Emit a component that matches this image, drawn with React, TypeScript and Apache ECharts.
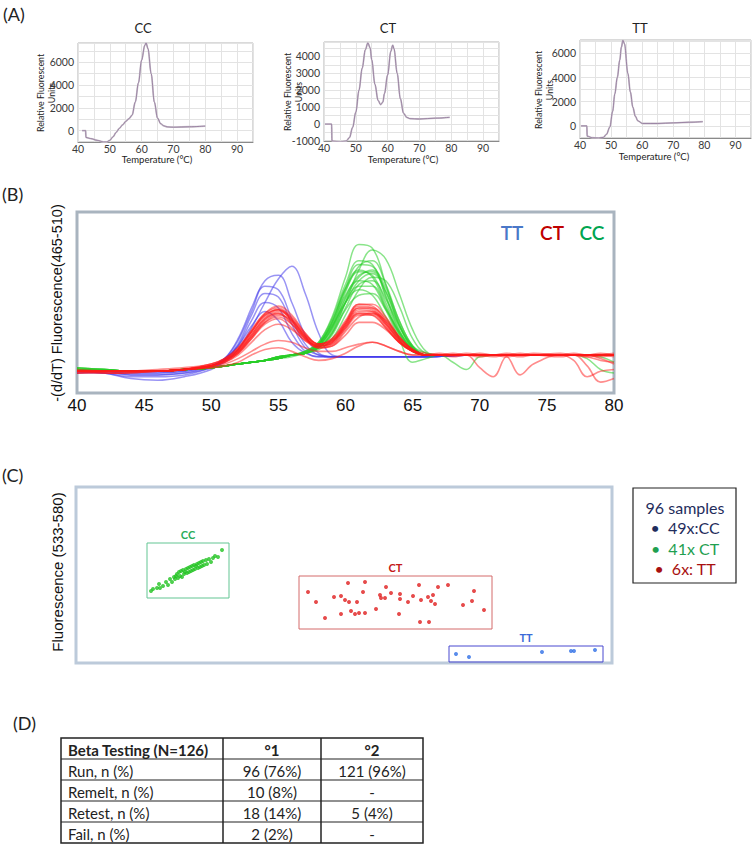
import { useEffect, useRef } from "react";
import * as echarts from "echarts";

// ---------- Panel A: single melt curves ----------
const ccTemp = [41.3,42.4,42.5,44,46,48,49,50,51,52,53,54,55,56,57,58,59,60,61,61.4,62,63,64,65,66,67,68,70,75,80];
const ccRfu = [0,0,-600,-700,-850,-1000,-1000,-850,-550,-150,200,500,800,1050,1350,2500,4200,6200,7500,7700,7200,5000,2500,1100,600,420,330,300,340,400];
const ctTemp = [40.3,42.4,42.5,45,47,48,49,50,51,52,53,53.8,54.5,55,56,57,57.8,58.5,59,60,61,61.6,62,63,64,65,66,67,70,75,79.5];
const ctRfu = [0,0,-1000,-1050,-1000,-800,-200,700,2000,3300,4400,4800,4500,3800,2350,1400,1150,1300,1800,2900,4300,4660,4450,3000,1500,640,400,320,300,350,400];
const ttTemp = [40.3,42.2,42.3,44,46,47.5,48.5,49.6,50.5,51.2,52,52.8,53.3,53.8,54.3,55.4,56.2,57,57.8,58.6,60.1,65,70,75,79.5];
const ttRfu = [0,0,-850,-980,-1000,-950,-700,-100,1200,2650,4000,5450,6500,7070,6800,4330,2800,1540,800,420,200,200,250,300,350];

// ---------- Panel B: -(d/dT) melt curves ----------
const bTempTT = [40,42,44,46,48,50,51,52,53,54,55,56,57,58,59,60,62,65,70,75,80];
const bTT = [
  [12,11,9,9,10,14,17,24,36,50,63,70,55,33,21,20,20,20,21,21,21],
  [12,12,10,10,11,15,19,30,47,62,65,50,32,22,20,20,20,20,21,21,21],
  [11,12,11,11,12,15,19,29,45,59,57,41,27,21,20,20,20,20,21,21,21],
  [12,11,8,7,9,13,18,27,43,55,53,38,25,21,20,20,20,20,21,21,21],
  [11,11,10,10,11,14,18,26,40,50,47,33,23,20,20,20,20,20,21,21,21],
  [12,12,11,11,12,15,19,26,37,45,40,28,22,20,20,20,20,20,21,21,21],
];
const bTempCT = [40,43,46,48,50,51,52,53,54,55,56,57,58,59,60,61,62,63,64,65,66,67,68,69,70,71,72,73,74,76,77,78,79,80];
const bCT = [
  [12,11,12,13,15,18,23,32,41,44,38,30,26,28,37,46,45,37,28,23,21,21,22,21,21,21,20,21,21,22,21,21,20,21],
  [12,12,12,13,16,19,25,35,44,47,41,32,27,30,40,49,48,40,30,24,21,22,21,21,20,21,21,22,21,21,21,20,21,22],
  [11,11,12,13,15,17,22,30,38,41,36,29,26,27,35,43,43,36,28,23,21,21,21,22,21,20,21,21,22,21,21,21,21,20],
  [12,12,13,14,16,19,24,33,42,46,42,33,27,29,38,47,47,41,31,24,21,21,21,21,22,21,21,20,21,21,22,21,21,21],
  [12,11,12,13,15,18,22,30,39,43,40,31,25,26,34,42,44,40,31,24,22,21,20,21,21,21,22,21,21,20,21,21,22,21],
  [12,12,12,13,14,16,19,23,27,29,28,25,23,23,25,27,28,26,23,21,21,21,21,21,21,21,21,21,21,21,21,21,21,21],
  [12,12,12,13,14,15,17,21,24,25,23,20,18,19,22,26,28,26,23,21,21,21,21,21,14,9,20,10,16,21,21,21,21,21],
  [13,12,12,13,15,18,24,34,43,46,40,31,26,28,38,47,46,38,29,23,21,21,21,21,21,21,21,21,21,21,18,9,12,13],
  [12,12,12,13,15,17,22,31,40,44,39,30,25,27,36,44,44,38,29,23,21,21,21,21,21,21,21,21,21,21,21,15,6,8],
  [12,12,12,13,16,19,25,34,43,46,40,31,26,29,39,49,49,42,31,24,21,21,21,21,21,21,21,21,21,21,21,21,21,21],
  [11,12,12,13,15,18,24,34,44,48,43,33,27,30,39,48,47,39,29,23,21,21,21,21,21,21,21,21,21,21,21,21,21,21],
  [12,12,12,13,15,18,23,31,39,42,38,30,26,28,36,44,43,36,28,23,21,21,21,21,21,21,21,21,21,21,21,20,18,17],
  [12,12,12,13,15,17,21,28,35,38,35,29,25,26,32,39,39,35,28,23,21,21,21,21,21,21,21,21,21,21,21,21,21,21],
  [12,12,12,13,15,18,23,32,41,45,41,32,27,29,37,45,45,39,30,24,21,21,21,21,21,21,21,21,21,21,21,21,19,16],
];
const bTempCC = [40,42,44,46,48,50,52,54,55,56,57,58,59,60,61,62,63,64,65,66,67,68,69,70,72,75,77,78,79,80];
const bCC = [
  [14,13,12,12,13,14,16,18,20,21,23,28,42,64,82,80,60,38,25,21,21,21,21,21,21,21,21,21,21,21],
  [13,12,12,12,13,14,16,18,19,21,22,25,33,50,68,79,74,55,35,23,21,21,21,21,21,21,21,21,21,21],
  [13,12,12,12,13,14,16,18,19,21,22,26,37,56,70,73,60,40,26,21,21,21,21,21,21,21,21,21,21,21],
  [12,12,12,12,13,14,16,18,20,21,23,27,39,58,71,70,54,35,24,21,21,21,21,21,21,21,21,21,21,21],
  [13,13,12,12,13,14,16,18,19,21,22,27,40,58,68,64,48,32,23,21,21,21,21,21,21,21,21,21,21,21],
  [14,13,12,12,13,14,16,18,20,21,22,25,34,50,62,66,56,38,25,21,21,21,21,21,21,21,21,21,21,21],
  [12,12,12,12,13,14,16,18,20,21,23,27,38,54,62,60,46,30,17,19,21,21,21,21,21,21,21,21,21,21],
  [13,13,12,12,13,14,16,18,19,21,22,26,35,50,59,59,47,33,24,21,21,21,21,21,21,21,21,21,21,21],
  [13,12,12,12,13,14,16,18,20,21,22,27,37,50,57,54,42,30,23,21,21,21,21,21,21,21,21,21,21,21],
  [13,13,12,12,13,14,16,18,19,21,22,25,33,46,54,55,46,34,25,21,21,17,13,20,21,21,21,21,21,21],
  [13,12,12,12,13,14,16,18,19,21,22,26,36,52,64,68,58,40,26,21,21,21,21,21,21,21,21,19,13,11],
  [13,12,12,12,13,14,16,18,19,20,22,24,30,43,57,64,62,48,30,22,21,21,21,21,21,21,21,21,21,21],
  [14,13,12,12,13,14,16,18,20,21,22,27,39,57,67,65,50,33,24,21,21,21,21,21,21,21,21,21,21,21],
  [13,13,12,12,13,14,16,18,19,21,22,26,36,53,65,67,56,37,25,21,21,21,21,21,21,21,21,21,20,17],
  [12,12,12,12,13,14,16,18,20,21,23,28,41,60,73,71,53,34,24,21,21,21,21,21,21,21,21,21,21,21],
  [13,12,12,12,13,14,16,18,19,21,22,25,32,47,60,62,52,37,26,22,21,21,21,21,21,21,21,21,21,21],
];

// ---------- Panel C: genotype scatter ----------
const cCC = [[75,72],[77,74],[81,75],[83,79],[84,75],[87,77],[90,81],[92,78],[94,84],[96,81],[98,86],[99,84],[100,87],[101,89],[102,85],[103,91],[104,87],[105,92],[106,86],[107,93],[108,89],[109,91],[110,94],[111,90],[112,95],[113,91],[114,96],[115,92],[116,97],[117,93],[118,98],[119,94],[120,97],[121,99],[122,95],[123,100],[124,96],[125,101],[126,97],[127,102],[128,98],[130,103],[131,99],[133,104],[135,101],[137,105],[139,107],[142,106],[146,113]];
const cCT = [[232,71],[240,61],[249,45],[258,66],[265,67],[265,49],[269,63],[272,80],[273,61],[275,52],[279,49],[281,61],[283,50],[287,71],[289,81],[289,50],[300,54],[304,68],[305,65],[309,65],[310,76],[315,70],[323,49],[324,69],[324,64],[332,61],[337,67],[343,78],[344,41],[345,63],[352,66],[353,41],[355,62],[357,68],[359,59],[362,76],[372,78],[387,58],[396,62],[398,72],[408,53]];
const cTT = [[380,9],[393,6],[466,11],[495,12],[498,12],[519,13]];
const boxCC = [[71,65],[153,120]];
const boxCT = [[223,34],[416,87]];
const boxTT = [[373,1],[527,17]];
const legendLines = ["96 samples", "•  49x:CC", "•  41x CT", "•  6x: TT"];

// ---------- Panel D: table ----------
const tableHeader = ["Beta Testing (N=126)", "°1", "°2"];
const tableRows = [
  ["Run, n (%)", "96 (76%)", "121 (96%)"],
  ["Remelt, n (%)", "10 (8%)", "-"],
  ["Retest, n (%)", "18 (14%)", "5 (4%)"],
  ["Fail, n (%)", "2 (2%)", "-"],
];

const CAL = "Lato, 'Open Sans', sans-serif";
const ARIAL = "'Liberation Sans', Arial, sans-serif";

function txt(text: string, x: number, y: number, o: any = {}) {
  return {
    type: "text",
    x,
    y,
    rotation: o.rotation || 0,
    silent: true,
    style: {
      text,
      fontSize: o.fontSize || 12,
      fontFamily: o.fontFamily || CAL,
      fontWeight: o.fontWeight || "normal",
      fill: o.fill || "#222",
      lineHeight: o.lineHeight,
      textAlign: o.align || "center",
      align: o.align || "center",
      textVerticalAlign: "middle",
      verticalAlign: "middle",
    },
  };
}

function zip(xs: number[], ys: number[]) {
  return xs.map((x, i) => [x, ys[i]]);
}

export default function App() {
  const ref = useRef<HTMLDivElement>(null);
  useEffect(() => {
    if (!ref.current) return;
    const chart = echarts.init(ref.current, null, { renderer: "svg" });

    const aGrid = { show: true, borderColor: "#b5b5b5", borderWidth: 1, containLabel: false };
    const aX = (gi: number) => ({
      type: "value", gridIndex: gi, min: 40, max: 95, interval: 5,
      axisLine: { show: true, onZero: false, lineStyle: { color: "#8a8a8a" } },
      axisTick: { show: false },
      splitLine: { show: true, lineStyle: { color: "#e3e3e3", width: 1 } },
      axisLabel: {
        fontSize: 10.5, color: "#3a3a3a", fontFamily: CAL, margin: 1, showMaxLabel: false,
        formatter: (v: number) => (v % 10 === 0 ? String(v) : ""),
      },
    });
    const aY = (gi: number, min: number, max: number, interval: number, step: number) => ({
      type: "value", gridIndex: gi, min, max, interval,
      axisLine: { show: false, onZero: false }, axisTick: { show: false },
      splitLine: { show: true, lineStyle: { color: "#e3e3e3", width: 1 } },
      axisLabel: {
        fontSize: 10.5, color: "#3a3a3a", fontFamily: CAL, margin: 4, showMinLabel: true, showMaxLabel: false,
        formatter: (v: number) => (v % step === 0 ? String(v) : ""),
      },
    });

    const aLine = (xi: number, data: number[][]) => [
      { type: "line", xAxisIndex: xi, yAxisIndex: xi, data, showSymbol: false, smooth: 0.35, smoothMonotone: "x",
        lineStyle: { color: "#cbc4cd", width: 1.8 }, silent: true },
      { type: "line", xAxisIndex: xi, yAxisIndex: xi, data, showSymbol: false, smooth: 0.35, smoothMonotone: "x",
        lineStyle: { color: "#8f7399", width: 0.8 }, silent: true },
    ];

    const bSeries: any[] = [];
    bTT.forEach((ys) => bSeries.push({ type: "line", xAxisIndex: 3, yAxisIndex: 3, data: zip(bTempTT, ys), showSymbol: false, smooth: 0.4, silent: true,
      lineStyle: { color: "rgba(70,60,235,0.55)", width: 1.5 } }));
    bCC.forEach((ys) => bSeries.push({ type: "line", xAxisIndex: 3, yAxisIndex: 3, data: zip(bTempCC, ys), showSymbol: false, smooth: 0.4, silent: true,
      lineStyle: { color: "rgba(40,205,40,0.55)", width: 1.5 } }));
    bCT.forEach((ys) => bSeries.push({ type: "line", xAxisIndex: 3, yAxisIndex: 3, data: zip(bTempCT, ys), showSymbol: false, smooth: 0.4, silent: true,
      lineStyle: { color: "rgba(255,25,25,0.5)", width: 1.6 } }));

    const box = (b: number[][], name: string, border: string, labelColor: string) => ({
      silent: true,
      data: [[{ coord: b[0] }, { coord: b[1] }]],
      itemStyle: { color: "rgba(0,0,0,0)", borderColor: border, borderWidth: 1 },
      label: { show: true, position: "top", formatter: name, color: labelColor, fontWeight: "bold", fontSize: 11, fontFamily: CAL, distance: 3 },
    });

    const graphics: any[] = [];
    graphics.push(txt("(A)", 3, 14, { fontSize: 18, align: "left" }));
    graphics.push(txt("(B)", 2, 194, { fontSize: 18, align: "left" }));
    graphics.push(txt("(C)", 2, 475, { fontSize: 18, align: "left" }));
    graphics.push(txt("(D)", 13, 723, { fontSize: 18, align: "left" }));
    // panel A titles & axis names
    const aTitles = [["CC", 143, 28, 46, 93, 157, 159], ["CT", 388, 28, 293, 92, 403, 159], ["TT", 640, 28, 544, 90, 654, 156]];
    aTitles.forEach(([t, tx, ty, nx, ny, xc, xy]: any) => {
      graphics.push(txt(t, tx, ty, { fontSize: 13 }));
      graphics.push(txt("Relative Fluorescent\nUnits", nx, ny, { fontSize: 8.8, lineHeight: 11, rotation: Math.PI / 2 }));
      graphics.push(txt("Temperature (°C)", xc, xy, { fontSize: 9.5 }));
    });
    // panel B
    graphics.push(txt("-(d/dT) Fluorescence(465-510)", 57, 303, { fontSize: 14.5, fontFamily: ARIAL, rotation: Math.PI / 2, fill: "#111" }));
    graphics.push(txt("TT", 512, 232, { fontSize: 19, fontWeight: 600, fill: "#4a78c8" }));
    graphics.push(txt("CT", 552, 232, { fontSize: 19, fontWeight: 600, fill: "#c00000" }));
    graphics.push(txt("CC", 592, 232, { fontSize: 19, fontWeight: 600, fill: "#00a550" }));
    // panel C
    graphics.push(txt("Fluorescence (533-580)", 57, 572, { fontSize: 15, fontFamily: ARIAL, rotation: Math.PI / 2, fill: "#111" }));
    graphics.push({ type: "rect", shape: { x: 633, y: 488, width: 103, height: 95 }, style: { fill: "#fff", stroke: "#222", lineWidth: 1.2 } });
    const legColors = ["#1f2d5c", "#1f2d5c", "#1fa050", "#a81010"];
    legendLines.forEach((l, i) => graphics.push(txt(l, 685, 507 + i * 20.5, { fontSize: 16, fill: legColors[i] })));
    // panel D table
    const tl = 61, tr = 423, c1 = 223, c2 = 321;
    const rowY = [738, 759, 780, 801, 822, 843];
    graphics.push({ type: "rect", shape: { x: tl, y: rowY[0], width: tr - tl, height: rowY[5] - rowY[0] }, style: { fill: "none", stroke: "#222", lineWidth: 1.5 } });
    for (let i = 1; i < 5; i++) graphics.push({ type: "line", shape: { x1: tl, y1: rowY[i], x2: tr, y2: rowY[i] }, style: { stroke: "#222", lineWidth: 1.2 } });
    [c1, c2].forEach((c) => graphics.push({ type: "line", shape: { x1: c, y1: rowY[0], x2: c, y2: rowY[5] }, style: { stroke: "#222", lineWidth: 1.5 } }));
    const allRows = [tableHeader, ...tableRows];
    allRows.forEach((r, i) => {
      const cy = (rowY[i] + rowY[i + 1]) / 2 + 1;
      const fw = i === 0 ? "bold" : "normal";
      graphics.push(txt(r[0], 68, cy, { fontSize: 15, align: "left", fontWeight: fw }));
      graphics.push(txt(r[1], (c1 + c2) / 2, cy, { fontSize: 15, fontWeight: fw }));
      graphics.push(txt(r[2], (c2 + tr) / 2, cy, { fontSize: 15, fontWeight: fw }));
    });

    chart.setOption({
      animation: false,
      backgroundColor: "#fff",
      grid: [
        { ...aGrid, left: 78, top: 43, width: 175, height: 99 },
        { ...aGrid, left: 324, top: 42, width: 175, height: 99 },
        { ...aGrid, left: 580, top: 40, width: 171, height: 98 },
        { show: true, left: 77, top: 212, width: 537, height: 181, borderColor: "#a9b4bf", borderWidth: 3 },
        { show: true, left: 76, top: 487, width: 536, height: 176, borderColor: "#bccada", borderWidth: 3 },
      ],
      xAxis: [
        aX(0), aX(1), aX(2),
        { type: "value", gridIndex: 3, min: 40, max: 80, interval: 5, axisLine: { show: false }, axisTick: { show: false }, splitLine: { show: false },
          axisLabel: { fontSize: 17, color: "#111", fontFamily: ARIAL, margin: 4 } },
        { type: "value", gridIndex: 4, min: 0, max: 536, show: false, splitLine: { show: false } },
      ],
      yAxis: [
        aY(0, -1000, 7700, 1000, 2000),
        aY(1, -1000, 4850, 500, 1000),
        aY(2, -1000, 7100, 1000, 2000),
        { type: "value", gridIndex: 3, min: 0, max: 100, show: false, splitLine: { show: false } },
        { type: "value", gridIndex: 4, min: 0, max: 176, show: false, splitLine: { show: false } },
      ],
      series: [
        ...aLine(0, zip(ccTemp, ccRfu)),
        ...aLine(1, zip(ctTemp, ctRfu)),
        ...aLine(2, zip(ttTemp, ttRfu)),
        ...bSeries,
        { type: "scatter", xAxisIndex: 4, yAxisIndex: 4, data: cCC, symbolSize: 4, itemStyle: { color: "#22c322" }, silent: true,
          markArea: box(boxCC, "CC", "#63c593", "#2aac5a") },
        { type: "scatter", xAxisIndex: 4, yAxisIndex: 4, data: cCT, symbolSize: 4, itemStyle: { color: "#e01e1e" }, silent: true,
          markArea: box(boxCT, "CT", "#d46a6a", "#c41818") },
        { type: "scatter", xAxisIndex: 4, yAxisIndex: 4, data: cTT, symbolSize: 4, itemStyle: { color: "#2f6fe6" }, silent: true,
          markArea: box(boxTT, "TT", "#4848d0", "#3a6ad8") },
      ],
      graphic: graphics,
    });
    return () => chart.dispose();
  }, []);
  return <div ref={ref} style={{ position: "absolute", left: 0, top: 0, width: 754, height: 846 }} />;
}
